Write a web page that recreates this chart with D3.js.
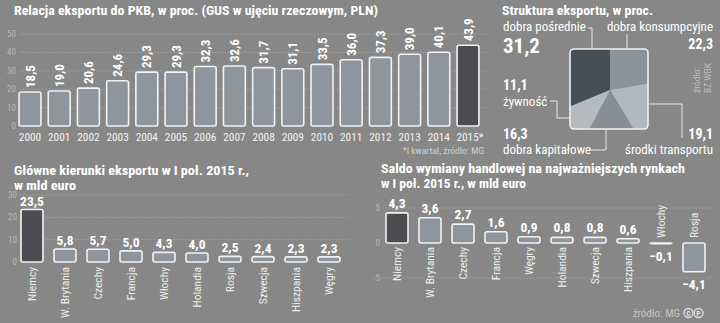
<!DOCTYPE html>
<html><head><meta charset="utf-8">
<script src="https://cdn.jsdelivr.net/npm/d3@7"></script>
<style>
html,body{margin:0;padding:0;background:#888;}
svg{display:block;}
text{font-family:"Liberation Sans Narrow","Roboto Condensed","Roboto",sans-serif;}
</style></head>
<body>
<svg id="c" width="720" height="323"></svg>
<script>
// ---- data ----
const years = ["2000","2001","2002","2003","2004","2005","2006","2007","2008","2009","2010","2011","2012","2013","2014","2015*"];
const exportRatio = [18.5,19.0,20.6,24.6,29.3,29.3,32.3,32.6,31.7,31.1,33.5,36.0,37.3,39.0,40.1,43.9];
const ratioTicks = [0,10,20,30,40,50];

const structureCats = ["dobra pośrednie","dobra konsumpcyjne","środki transportu","dobra kapitałowe","żywność"];
const structureVals = [31.2,22.3,19.1,16.3,11.1];

const directionCats = ["Niemcy","W. Brytania","Czechy","Francja","Włochy","Holandia","Rosja","Szwecja","Hiszpania","Węgry"];
const directionVals = [23.5,5.8,5.7,5.0,4.3,4.0,2.5,2.4,2.3,2.3];
const directionTicks = [0,10,20,30];

const balanceCats = ["Niemcy","W. Brytania","Czechy","Francja","Węgry","Holandia","Szwecja","Hiszpania","Włochy","Rosja"];
const balanceVals = [4.3,3.6,2.7,1.6,0.9,0.8,0.8,0.6,-0.1,-4.1];
const balanceTicks = [-5,0,5];

// ---- style ----
const BG="#878787", BAR="#8e959c", DARK="#4b4c4f", STROKE="#f2f2f2", GRID="#b4b4b4", TICK="#b9b9b9";
const fmt = v => d3.format(".1f")(v).replace(".",",");

const svg = d3.select("#c");
svg.append("rect").attr("width",720).attr("height",323).attr("fill",BG);

function title(x,y,lines,widths){
  lines.forEach((l,i)=>svg.append("text").attr("x",x).attr("y",y+i*14.5).attr("fill","#fff")
    .attr("font-weight","bold").attr("font-size",12.5)
    .attr("textLength",widths[i]).attr("lengthAdjust","spacingAndGlyphs").text(l));
}

// ===== Panel 1: export / GDP =====
title(14,15,["Relacja eksportu do PKB, w proc. (GUS w ujęciu rzeczowym, PLN)"],[364]);
const x1 = d3.scaleBand().domain(years).range([15.4,482.6]).paddingInner(0.25).paddingOuter(0.125);
const y1 = d3.scaleLinear().domain([0,50]).range([126,34]);
const g1 = svg.append("g");
g1.selectAll("line.grid").data(ratioTicks.filter(d=>d>0)).join("line")
  .attr("x1",20).attr("x2",486).attr("y1",d=>y1(d)).attr("y2",d=>y1(d))
  .attr("stroke",GRID).attr("stroke-width",0.8).attr("stroke-dasharray","1.2,2");
g1.selectAll("text.tick").data(ratioTicks).join("text")
  .attr("x",16).attr("y",d=>y1(d)+3).attr("text-anchor","end")
  .attr("font-size",9).attr("fill",TICK).text(d=>d);
g1.selectAll("rect.bar").data(exportRatio).join("rect")
  .attr("x",(d,i)=>x1(years[i])).attr("width",x1.bandwidth())
  .attr("y",d=>y1(d)).attr("height",d=>y1(0)-y1(d)).attr("rx",2)
  .attr("fill",(d,i)=>i===years.length-1?DARK:BAR).attr("stroke",STROKE).attr("stroke-width",1.6);
g1.selectAll("text.val").data(exportRatio).join("text")
  .attr("transform",(d,i)=>`translate(${x1(years[i])+x1.bandwidth()/2+4.5},${y1(d)-4}) rotate(-90)`)
  .attr("font-size",13).attr("font-weight","bold").attr("fill","#fff").text(d=>fmt(d));
g1.selectAll("text.year").data(years).join("text")
  .attr("x",d=>x1(d)+x1.bandwidth()/2+(d.endsWith("*")?2:0)).attr("y",140.5).attr("text-anchor","middle")
  .attr("font-family","Liberation Sans, Arimo, sans-serif")
  .attr("font-size",11.3).attr("fill","#f4f4f4").text(d=>d);
svg.append("text").attr("x",484).attr("y",153.5).attr("text-anchor","end")
  .attr("font-size",9.5).attr("fill","#d0d0d0").text("*I kwartał, źródło: MG");

// ===== Panel 2: structure =====
title(502,15,["Struktura eksportu, w proc."],[151]);
const sq = {x:570,y:49,w:78,h:80};
const cx=610, cy=90;
const sColors = ["#474e56","#8b939a","#b3b8bc","#878e96","#b5babe"];
const a0 = -2*Math.PI*structureVals[0]/100;
const pie = d3.pie().sort(null).startAngle(a0).endAngle(a0+2*Math.PI);
const arcs = pie(structureVals);
const arc = d3.arc().innerRadius(0).outerRadius(90);
const defs = svg.append("defs");
defs.append("clipPath").attr("id","sqclip").append("rect")
  .attr("x",sq.x).attr("y",sq.y).attr("width",sq.w).attr("height",sq.h).attr("rx",4);
svg.append("g").attr("clip-path","url(#sqclip)")
  .selectAll("path").data(arcs).join("path")
  .attr("transform",`translate(${cx},${cy})`).attr("d",arc).attr("fill",(d,i)=>sColors[i]);
svg.append("rect").attr("x",sq.x).attr("y",sq.y).attr("width",sq.w).attr("height",sq.h).attr("rx",4)
  .attr("fill","none").attr("stroke",STROKE).attr("stroke-width",1.6);

const lbl = (x,y,t,anchor,size,bold)=>svg.append("text").attr("x",x).attr("y",y).attr("text-anchor",anchor||"start")
  .attr("font-size",size||12).attr("font-weight",bold?"bold":"normal").attr("fill","#fff").text(t);
const lead = pts => svg.append("polyline").attr("points",pts.map(p=>p.join(",")).join(" "))
  .attr("fill","none").attr("stroke","#e6e6e6").attr("stroke-width",1);
// dobra pośrednie
lbl(503,31,structureCats[0],"start",13);
lbl(503,53,fmt(structureVals[0]),"start",21,true);
lead([[588,28],[592,28],[592,49]]);
// dobra konsumpcyjne
lbl(713,31,structureCats[1],"end",13);
lbl(713,49,fmt(structureVals[1]),"end",14,true);
lead([[627,34],[627,49]]);
// żywność
lbl(503,90,fmt(structureVals[4]),"start",14,true);
lbl(503,106,structureCats[4],"start",13);
lead([[550,101],[557,101],[557,118],[570,118]]);
// dobra kapitałowe
lbl(503,139,fmt(structureVals[3]),"start",14,true);
lbl(503,154,structureCats[3],"start",13);
lead([[590,150],[606,150],[606,129]]);
// środki transportu
lbl(713,139,fmt(structureVals[2]),"end",14,true);
lbl(713,154,structureCats[2],"end",13);
lead([[648,104],[682,104],[682,138]]);
// source
const src = svg.append("text").attr("transform","translate(700,93) rotate(-90)")
  .attr("font-size",9.5).attr("fill","#bdbdbd");
src.append("tspan").attr("x",0).attr("dy",0).text("źródło:");
src.append("tspan").attr("x",0).attr("dy",10.5).text("BZ WBK");

// ===== Panel 3: directions =====
title(14,175,["Główne kierunki eksportu w I poł. 2015 r.,","w mld euro"],[235,62]);
const x3 = d3.scaleBand().domain(directionCats).range([15.5,345.5]).paddingInner(1/3).paddingOuter(1/6);
const y3 = d3.scaleLinear().domain([0,30]).range([262,195]);
const g3 = svg.append("g");
g3.selectAll("line").data(directionTicks.filter(d=>d>0)).join("line")
  .attr("x1",20).attr("x2",349).attr("y1",d=>y3(d)).attr("y2",d=>y3(d))
  .attr("stroke",GRID).attr("stroke-width",0.8).attr("stroke-dasharray","1.2,2");
g3.selectAll("text.tick").data(directionTicks).join("text")
  .attr("x",17).attr("y",d=>y3(d)+3).attr("text-anchor","end")
  .attr("font-size",9).attr("fill",TICK).text(d=>d);
g3.selectAll("rect").data(directionVals).join("rect")
  .attr("x",(d,i)=>x3(directionCats[i])).attr("width",x3.bandwidth())
  .attr("y",d=>y3(d)).attr("height",d=>y3(0)-y3(d)).attr("rx",2)
  .attr("fill",(d,i)=>i===0?DARK:BAR).attr("stroke",STROKE).attr("stroke-width",1.6);
g3.selectAll("text.val").data(directionVals).join("text")
  .attr("x",(d,i)=>x3(directionCats[i])+x3.bandwidth()/2).attr("y",d=>y3(d)-4)
  .attr("text-anchor","middle").attr("font-size",13.5).attr("font-weight","bold").attr("fill","#fff").text(d=>fmt(d));
g3.selectAll("text.cat").data(directionCats).join("text")
  .attr("transform",d=>`translate(${x3(d)+x3.bandwidth()/2+4},267) rotate(-90)`)
  .attr("text-anchor","end").attr("font-size",11.5).attr("fill","#eeeeee").text(d=>d);

// ===== Panel 4: trade balance =====
title(381,173,["Saldo wymiany handlowej na najważniejszych rynkach","w I poł. 2015 r., w mld euro"],[304,145]);
const x4 = d3.scaleBand().domain(balanceCats).range([380.5,710.5]).paddingInner(1/3).paddingOuter(1/6);
const y4 = d3.scaleLinear().domain([-5,5]).range([278,208]);
const g4 = svg.append("g");
g4.selectAll("line").data(balanceTicks.filter(d=>d!==0)).join("line")
  .attr("x1",382).attr("x2",713).attr("y1",d=>y4(d)).attr("y2",d=>y4(d))
  .attr("stroke",GRID).attr("stroke-width",0.8).attr("stroke-dasharray","1.2,2");
g4.selectAll("text.tick").data(balanceTicks).join("text")
  .attr("x",380).attr("y",d=>y4(d)+3).attr("text-anchor","end")
  .attr("font-size",9).attr("fill",TICK).text(d=>d);
g4.selectAll("rect").data(balanceVals).join("rect")
  .attr("x",(d,i)=>x4(balanceCats[i])).attr("width",x4.bandwidth())
  .attr("y",d=>y4(Math.max(0,d))).attr("height",d=>Math.abs(y4(0)-y4(d))).attr("rx",2)
  .attr("fill",(d,i)=>i===0?DARK:BAR).attr("stroke",STROKE).attr("stroke-width",1.6);
g4.selectAll("text.val").data(balanceVals).join("text")
  .attr("x",(d,i)=>x4(balanceCats[i])+x4.bandwidth()/2)
  .attr("y",d=>d>=0?y4(d)-5:y4(d)+17)
  .attr("text-anchor","middle").attr("font-size",13.5).attr("font-weight","bold").attr("fill","#fff").text(d=>fmt(d));
g4.selectAll("text.cat").data(balanceCats).join("text")
  .attr("transform",(d,i)=>`translate(${x4(d)+x4.bandwidth()/2+4},${balanceVals[i]>=0?247:238}) rotate(-90)`)
  .attr("text-anchor",(d,i)=>balanceVals[i]>=0?"end":"start").attr("font-size",11.5).attr("fill","#eeeeee").text(d=>d);

// footer
svg.append("text").attr("x",680).attr("y",317).attr("text-anchor","end")
  .attr("font-size",11).attr("fill","#c4c4c4").text("źródło: MG");
[["C",688.5],["P",698.5]].forEach(([t,x])=>{
  svg.append("circle").attr("cx",x).attr("cy",313).attr("r",4.5).attr("fill","none").attr("stroke","#e0e0e0").attr("stroke-width",1.3);
  svg.append("text").attr("x",x).attr("y",316).attr("text-anchor","middle").attr("font-size",7.5).attr("font-weight","bold").attr("fill","#e0e0e0").text(t);
});
</script>
</body></html>
